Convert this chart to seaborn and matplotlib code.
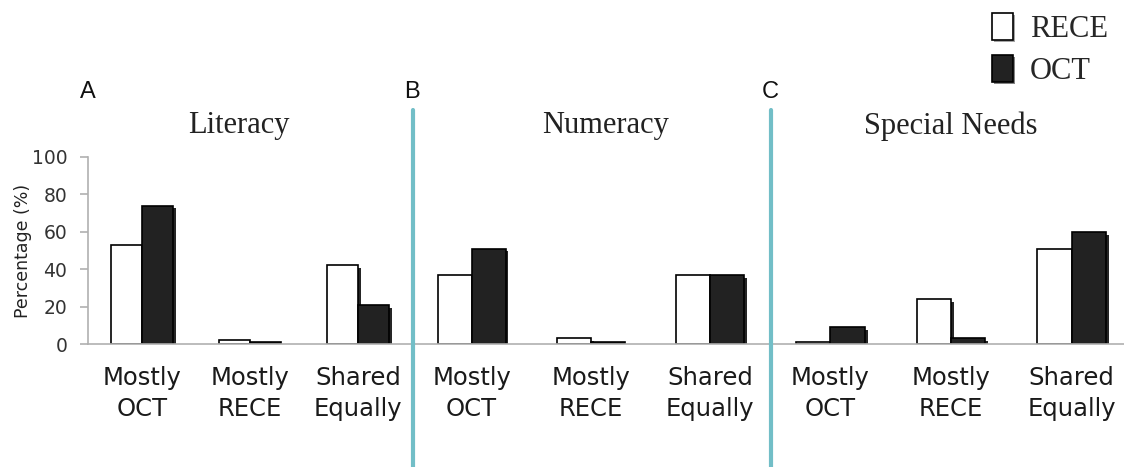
import matplotlib
matplotlib.use("Agg")
import matplotlib.pyplot as plt
import matplotlib.patheffects as pe
from matplotlib.lines import Line2D
from matplotlib.patches import Patch
import seaborn as sns
import pandas as pd

categories = ["Mostly\nOCT", "Mostly\nRECE", "Shared\nEqually"]
groups = ["RECE", "OCT"]
panel_titles = ["Literacy", "Numeracy", "Special Needs"]
panel_letters = ["A", "B", "C"]
rece_values = [[53, 2, 42], [37, 3, 37], [1, 24, 51]]
oct_values = [[74, 1, 21], [51, 1, 37], [9, 3, 60]]
yticks = [0, 20, 40, 60, 80, 100]

sns.set_theme(style="white")
plt.rcParams["font.family"] = ["DejaVu Sans"]

W, H = 1124, 467
fig = plt.figure(figsize=(W / 100, H / 100), dpi=100)

# axes positions in pixels: (left, right)
xpos = [(88, 412), (412, 770), (770, 1132)]
title_x = [239, 606, 951]
y0, y100 = 344, 157
palette = {"RECE": "white", "OCT": "#222222"}
grey = "#b0b0b0"

for i in range(3):
    l, r = xpos[i]
    ax = fig.add_axes([l / W, 1 - y0 / H, (r - l) / W, (y0 - y100) / H])
    df = pd.DataFrame({
        "category": categories * 2,
        "group": ["RECE"] * 3 + ["OCT"] * 3,
        "value": rece_values[i] + oct_values[i],
    })
    sns.barplot(data=df, x="category", y="value", hue="group", order=categories,
                hue_order=groups, palette=palette, edgecolor="black", linewidth=1.2,
                width=0.57, ax=ax, legend=False, saturation=1)
    for p in ax.patches:
        p.set_path_effects([pe.SimplePatchShadow(offset=(2, -2), shadow_rgbFace="black", alpha=0.85),
                            pe.Normal()])
    ax.set_ylim(0, 100)
    ax.set_xlim(-0.5, 2.5)
    ax.set_xlabel("")
    ax.set_ylabel("")
    for s in ["top", "right"]:
        ax.spines[s].set_visible(False)
    ax.spines["bottom"].set_color(grey)
    ax.spines["bottom"].set_linewidth(1.2)
    ax.set_xticks(range(3))
    ax.set_xticklabels(categories, fontsize=17.5, color="#1a1a1a", linespacing=1.38)
    ax.tick_params(axis="x", which="major", length=0, pad=16)
    ax.set_xticks([0.5, 1.5], minor=True)
    ax.tick_params(axis="x", which="minor", length=6, color=grey, width=1.2, direction="out")
    if i == 0:
        ax.spines["left"].set_color(grey)
        ax.spines["left"].set_linewidth(1.2)
        ax.set_yticks(yticks)
        ax.set_yticklabels([str(v) for v in yticks], fontsize=13.5, color="#333333")
        ax.tick_params(axis="y", length=6, color=grey, width=1.2, left=True, pad=9)
        ax.set_ylabel("Percentage (%)", fontsize=12.5, color="#222222", labelpad=0)
    else:
        ax.spines["left"].set_visible(False)
        ax.set_yticks([])
    ax.patch.set_alpha(0)

# panel titles
for tx, t in zip(title_x, panel_titles):
    fig.text(tx / W, 1 - 126 / H, t, fontsize=22, family="Liberation Serif",
             ha="center", va="center", color="#222222")

# panel letters
letter_x = [88, 412, 770]
for lx, letter in zip(letter_x, panel_letters):
    fig.text(lx / W, 1 - 92 / H, letter, fontsize=17, family="Liberation Sans",
             ha="center", va="center", color="#111111")

# teal separators
for sx in [413, 771]:
    fig.add_artist(Line2D([sx / W, sx / W], [0, 1 - 110 / H], transform=fig.transFigure,
                          color="#72bec7", lw=3))

handles = [Patch(facecolor="white", edgecolor="black", linewidth=1.2),
           Patch(facecolor="#222222", edgecolor="black", linewidth=1.2)]
for h in handles:
    h.set_path_effects([pe.SimplePatchShadow(offset=(1.5, -1.5), alpha=0.5), pe.Normal()])
fig.legend(handles, groups, loc="upper left", bbox_to_anchor=(992 / W, 1 - 13 / H),
           frameon=False, prop={"family": "Liberation Serif", "size": 22},
           handlelength=0.68, handleheight=1.0, labelspacing=0.35, handletextpad=0.55,
           borderpad=0, borderaxespad=0)

fig.savefig("out.png", dpi=100)
